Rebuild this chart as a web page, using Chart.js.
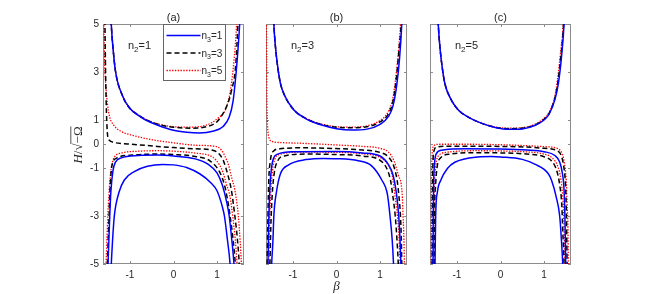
<!DOCTYPE html>
<html>
<head>
<meta charset="utf-8">
<script src="https://cdn.jsdelivr.net/npm/chart.js@4.4.1/dist/chart.umd.min.js"></script>
<style>
  html, body { margin: 0; padding: 0; background: #fff; }
  #wrap { position: relative; width: 661px; height: 294px; overflow: hidden; }
  .panel { position: absolute; top: 0; }
</style>
</head>
<body>
<div id="wrap">
  <canvas id="pa" class="panel" width="195" height="294" style="left:55px"></canvas>
  <canvas id="pb" class="panel" width="159" height="294" style="left:256px"></canvas>
  <canvas id="pc" class="panel" width="159" height="294" style="left:420px"></canvas>
</div>
<script>
// tick labels and panel labels
const xTicks = [-1, 0, 1];
const yTicks = [-5, -3, -1, 0, 1, 3, 5];
const panelTitles = ['(a)', '(b)', '(c)'];
const n2Values = [1, 3, 5];
const n3Values = [1, 3, 5];

// curves: [beta, H/sqrt(-Omega)]
// (a) n2 = 1
const aBlueUpper = [[-1.46,6.5],[-1.43,5],[-1.39,4],[-1.33,3],[-1.17,2],[-1.01,1.5],[-0.8,1.18],[-0.64,1.0],[-0.36,0.78],[0,0.57],[0.3,0.49],[0.6,0.46],[0.9,0.53],[1.14,0.73],[1.28,1.12],[1.37,1.8],[1.44,3],[1.48,3.9],[1.52,5],[1.55,6.5]];
const aBlackUpper = [[-1.46,6.5],[-1.43,5],[-1.39,4],[-1.33,3],[-1.17,2],[-1.01,1.5],[-0.8,1.2],[-0.64,1.02],[-0.36,0.82],[0,0.7],[0.4,0.66],[0.8,0.74],[1.0,0.93],[1.14,1.28],[1.25,1.7],[1.33,2.2],[1.43,3.3],[1.48,5],[1.51,6.5]];
const aRedUpper = [[-1.46,6.5],[-1.43,5],[-1.39,4],[-1.33,3],[-1.17,2],[-1.01,1.5],[-0.8,1.21],[-0.64,1.03],[-0.36,0.84],[0,0.72],[0.4,0.7],[0.8,0.82],[1.0,1.05],[1.22,1.55],[1.33,2.5],[1.41,3.9],[1.45,5],[1.48,6.5]];
const aRedMiddle = [[-1.61,6],[-1.6,5],[-1.58,3.3],[-1.55,2.3],[-1.52,1.7],[-1.47,1.15],[-1.38,0.8],[-1.2,0.52],[-0.98,0.38],[-0.5,0.18],[0,0.05],[0.5,-0.05],[0.99,-0.11],[1.1,-0.25],[1.18,-0.5],[1.27,-0.9],[1.33,-1.36],[1.41,-1.92],[1.46,-2.5],[1.49,-3],[1.53,-4],[1.56,-5],[1.58,-6]];
const aBlackMiddle = [[-1.585,6.5],[-1.575,5],[-1.565,3.5],[-1.55,2],[-1.535,1],[-1.51,0.3],[-1.47,0.15],[-1.43,0.1],[-1,0.0],[-0.37,-0.1],[0,-0.15],[0.5,-0.2],[0.92,-0.27],[1.05,-0.42],[1.14,-0.67],[1.26,-1.36],[1.33,-1.92],[1.41,-3],[1.47,-4],[1.51,-5],[1.54,-6.5]];
const aRedLower = [[-1.57,-6],[-1.55,-5],[-1.53,-4],[-1.51,-3],[-1.48,-2],[-1.45,-1.3],[-1.42,-0.9],[-1.36,-0.55],[-1.2,-0.38],[-0.8,-0.3],[-0.3,-0.28],[0,-0.3],[0.5,-0.38],[0.9,-0.55],[1.05,-0.85],[1.14,-1.2],[1.22,-1.7],[1.3,-2.2],[1.36,-3],[1.42,-4],[1.46,-5],[1.49,-6]];
const aBlackLower = [[-1.55,-6],[-1.52,-5],[-1.5,-4],[-1.48,-3],[-1.46,-2],[-1.43,-1.1],[-1.4,-0.8],[-1.3,-0.58],[-1.0,-0.47],[-0.4,-0.42],[0,-0.44],[0.5,-0.52],[0.85,-0.72],[1.07,-1.2],[1.17,-1.7],[1.24,-2.3],[1.3,-3],[1.37,-4],[1.42,-5],[1.45,-6]];
const aBlueOuter = [[-1.53,-6],[-1.505,-5],[-1.485,-4],[-1.465,-3],[-1.44,-2],[-1.39,-1.1],[-1.33,-0.75],[-1.2,-0.58],[-0.8,-0.48],[-0.36,-0.46],[0,-0.5],[0.5,-0.62],[0.8,-0.85],[1.0,-1.2],[1.12,-1.7],[1.22,-2.4],[1.28,-3],[1.34,-4],[1.39,-5],[1.42,-6]];
const aBlueInner = [[-1.46,-6],[-1.43,-5],[-1.4,-4],[-1.36,-3],[-1.25,-2],[-1.13,-1.5],[-0.9,-1.15],[-0.6,-0.93],[-0.25,-0.85],[0,-0.87],[0.3,-0.98],[0.61,-1.25],[0.85,-1.6],[1.0,-1.95],[1.12,-2.6],[1.17,-3],[1.24,-4],[1.3,-5],[1.33,-6]];

// (b) n2 = 3
const bBlueUpper = [[-1.47,6.5],[-1.44,5],[-1.4,4],[-1.35,3.2],[-1.29,2.54],[-1.2,2.05],[-0.98,1.42],[-0.7,1.05],[-0.36,0.8],[0,0.64],[0.34,0.58],[0.7,0.62],[1.0,0.82],[1.19,1.14],[1.3,1.6],[1.39,2.54],[1.45,3.6],[1.5,5],[1.53,6.5]];
const bBlackUpper = [[-1.47,6.5],[-1.44,5],[-1.4,4],[-1.35,3.2],[-1.29,2.54],[-1.2,2.05],[-0.98,1.42],[-0.7,1.06],[-0.36,0.82],[0,0.7],[0.34,0.68],[0.7,0.72],[1.0,0.92],[1.19,1.25],[1.3,1.8],[1.38,2.8],[1.44,4],[1.485,5],[1.51,6.5]];
const bRedUpper = [[-1.47,6.5],[-1.44,5],[-1.4,4],[-1.35,3.2],[-1.29,2.54],[-1.2,2.05],[-0.98,1.43],[-0.7,1.07],[-0.36,0.84],[0,0.72],[0.34,0.7],[0.7,0.76],[1.0,0.98],[1.19,1.35],[1.3,1.95],[1.37,2.9],[1.43,4],[1.47,5],[1.5,6.5]];
const bRedMiddle = [[-1.615,6],[-1.61,5],[-1.605,3.5],[-1.6,2],[-1.59,1],[-1.575,0.5],[-1.55,0.25],[-1.5,0.12],[-1.3,0.06],[-0.8,0.03],[0,-0.04],[0.6,-0.1],[1.0,-0.18],[1.2,-0.35],[1.32,-0.7],[1.42,-1.3],[1.51,-2.1],[1.53,-3],[1.55,-4],[1.56,-5],[1.57,-6]];
const bBlackOuter = [[-1.61,-6],[-1.595,-5],[-1.58,-3.5],[-1.56,-1.7],[-1.52,-0.7],[-1.45,-0.3],[-1.3,-0.2],[-0.8,-0.16],[0,-0.19],[0.6,-0.25],[1.0,-0.35],[1.2,-0.55],[1.32,-0.95],[1.4,-1.6],[1.43,-2.1],[1.47,-3],[1.49,-4],[1.5,-5],[1.52,-6]];
const bBlueOuter = [[-1.59,-6],[-1.575,-5],[-1.56,-3.5],[-1.53,-1.8],[-1.49,-0.95],[-1.45,-0.6],[-1.35,-0.42],[-1.0,-0.32],[0,-0.31],[0.6,-0.37],[1.0,-0.5],[1.19,-0.85],[1.3,-1.3],[1.38,-2.1],[1.43,-3],[1.46,-4],[1.48,-5],[1.5,-6]];
const bRedLower = [[-1.57,-6],[-1.555,-5],[-1.54,-3.5],[-1.51,-2],[-1.47,-1.1],[-1.42,-0.65],[-1.3,-0.43],[-0.8,-0.34],[0,-0.35],[0.6,-0.41],[1.0,-0.56],[1.18,-0.86],[1.28,-1.3],[1.34,-2.1],[1.4,-3],[1.44,-4],[1.46,-5],[1.48,-6]];
const bBlackInner = [[-1.55,-6],[-1.53,-5],[-1.51,-3.5],[-1.48,-2.2],[-1.43,-1.2],[-1.35,-0.7],[-1.2,-0.5],[-0.7,-0.42],[0,-0.44],[0.6,-0.5],[1.0,-0.68],[1.15,-1.0],[1.24,-1.5],[1.29,-2.1],[1.35,-3],[1.39,-4],[1.42,-5],[1.44,-6]];
const bBlueInner = [[-1.51,-6],[-1.49,-5],[-1.46,-4],[-1.44,-3],[-1.38,-2],[-1.29,-1.25],[-1.1,-0.87],[-0.7,-0.65],[-0.3,-0.6],[0,-0.61],[0.5,-0.7],[0.8,-0.9],[1.04,-1.5],[1.17,-2.1],[1.23,-3],[1.28,-4],[1.31,-5],[1.33,-6]];

// (c) n2 = 5
const cBlueUpper = [[-1.46,6.5],[-1.43,5],[-1.39,4],[-1.34,3.2],[-1.28,2.53],[-1.15,1.9],[-0.97,1.42],[-0.7,1.08],[-0.43,0.86],[-0.1,0.68],[0.19,0.61],[0.5,0.63],[0.8,0.78],[1.0,1.0],[1.12,1.25],[1.25,1.85],[1.33,2.53],[1.4,3.6],[1.46,5],[1.49,6.5]];
const cBlackUpper = [[-1.46,6.5],[-1.43,5],[-1.39,4],[-1.34,3.2],[-1.28,2.53],[-1.15,1.9],[-0.97,1.42],[-0.7,1.08],[-0.43,0.86],[-0.1,0.69],[0.19,0.64],[0.5,0.66],[0.8,0.8],[1.0,1.03],[1.12,1.29],[1.25,1.92],[1.32,2.6],[1.39,3.7],[1.45,5],[1.48,6.5]];
const cRedUpper = [[-1.46,6.5],[-1.43,5],[-1.39,4],[-1.34,3.2],[-1.28,2.53],[-1.15,1.9],[-0.97,1.42],[-0.7,1.08],[-0.43,0.87],[-0.1,0.7],[0.19,0.66],[0.5,0.68],[0.8,0.83],[1.0,1.07],[1.12,1.33],[1.25,2.0],[1.31,2.7],[1.38,3.8],[1.44,5],[1.47,6.5]];
const cRedOuter = [[-1.6,-6],[-1.59,-5],[-1.588,-3],[-1.585,-1.5],[-1.575,-0.6],[-1.56,-0.2],[-1.52,-0.05],[-1.4,-0.01],[-0.8,-0.01],[0,-0.03],[0.6,-0.07],[1.0,-0.11],[1.32,-0.2],[1.42,-0.42],[1.47,-0.8],[1.51,-1.5],[1.53,-2.5],[1.55,-3.5],[1.56,-5],[1.57,-6]];
const cBlackOuter = [[-1.58,-6],[-1.57,-5],[-1.565,-3],[-1.56,-1.6],[-1.55,-0.7],[-1.53,-0.3],[-1.48,-0.14],[-1.2,-0.09],[0,-0.1],[0.6,-0.13],[1.0,-0.18],[1.3,-0.28],[1.4,-0.5],[1.45,-0.9],[1.49,-1.6],[1.51,-2.6],[1.52,-3.6],[1.53,-5],[1.54,-6]];
const cBlueOuter = [[-1.56,-6],[-1.55,-5],[-1.545,-3],[-1.535,-1.6],[-1.515,-0.8],[-1.48,-0.42],[-1.35,-0.26],[-0.8,-0.2],[0,-0.21],[0.6,-0.25],[1.0,-0.32],[1.25,-0.48],[1.36,-0.75],[1.42,-1.2],[1.46,-1.9],[1.48,-3],[1.49,-4],[1.5,-5],[1.51,-6]];
const cRedInner = [[-1.545,-6],[-1.535,-5],[-1.53,-3],[-1.515,-1.7],[-1.49,-0.95],[-1.43,-0.5],[-1.25,-0.35],[-0.6,-0.28],[0,-0.29],[0.6,-0.33],[1.0,-0.42],[1.2,-0.6],[1.32,-0.95],[1.39,-1.5],[1.44,-2.5],[1.46,-3.5],[1.48,-5],[1.49,-6]];
const cBlackInner = [[-1.53,-6],[-1.52,-5],[-1.515,-3],[-1.495,-1.8],[-1.46,-1.0],[-1.38,-0.58],[-1.15,-0.42],[-0.6,-0.36],[0,-0.37],[0.6,-0.42],[1.0,-0.53],[1.18,-0.72],[1.29,-1.1],[1.36,-1.7],[1.41,-2.6],[1.43,-3.6],[1.46,-5],[1.47,-6]];
const cBlueInner = [[-1.515,-6],[-1.505,-5],[-1.49,-3],[-1.45,-2],[-1.37,-1.5],[-1.22,-1.02],[-1.05,-0.76],[-0.52,-0.54],[-0.2,-0.52],[0,-0.54],[0.5,-0.64],[0.8,-0.85],[1.09,-1.22],[1.17,-1.5],[1.28,-2.2],[1.36,-3],[1.4,-4],[1.43,-5],[1.45,-6]];

const FONT = '"Liberation Sans", Arial, Helvetica, sans-serif';
const SERIF = '"Liberation Serif", "Times New Roman", serif';
const TEXT = '#262626';
const AXIS = '#8c8c8c';

const STYLE = {
  blue:  { borderColor: '#0000ff', borderWidth: 1.5, borderDash: [] },
  black: { borderColor: '#000000', borderWidth: 1.5, borderDash: [5, 3] },
  red:   { borderColor: '#ff0000', borderWidth: 1.3, borderDash: [1.4, 1.4] }
};

function series(points, color) {
  return Object.assign({
    data: points.map(p => ({ x: p[0], y: p[1] })),
    pointRadius: 0,
    fill: false,
    cubicInterpolationMode: 'monotone'
  }, STYLE[color]);
}

// subscripted text like n_2=1
function subText(ctx, x, y, base, sub, rest, size) {
  ctx.font = size + 'px ' + FONT;
  ctx.fillText(base, x, y);
  x += ctx.measureText(base).width;
  ctx.font = Math.round(size * 0.7) + 'px ' + FONT;
  ctx.fillText(sub, x, y + size * 0.28);
  x += ctx.measureText(sub).width;
  ctx.font = size + 'px ' + FONT;
  ctx.fillText(rest, x, y);
}

// box with inward ticks on all four sides
const framePlugin = {
  id: 'frame',
  beforeDatasetsDraw(chart) {
    const { ctx, chartArea: a, scales: { x, y } } = chart;
    const t = 3;
    ctx.save();
    ctx.strokeStyle = AXIS;
    ctx.lineWidth = 1;
    ctx.strokeRect(Math.round(a.left) + 0.5, Math.round(a.top) + 0.5,
      Math.round(a.right - a.left) - 1, Math.round(a.bottom - a.top) - 1);
    ctx.beginPath();
    xTicks.forEach(v => {
      const px = Math.round(x.getPixelForValue(v)) + 0.5;
      ctx.moveTo(px, a.bottom); ctx.lineTo(px, a.bottom - t);
      ctx.moveTo(px, a.top); ctx.lineTo(px, a.top + t);
    });
    yTicks.forEach(v => {
      const py = Math.round(y.getPixelForValue(v)) + 0.5;
      ctx.moveTo(a.left, py); ctx.lineTo(a.left + t, py);
      ctx.moveTo(a.right, py); ctx.lineTo(a.right - t, py);
    });
    ctx.stroke();
    ctx.restore();
  }
};

const textPlugin = {
  id: 'panelText',
  afterDraw(chart, args, opts) {
    const { ctx, chartArea: a } = chart;
    ctx.save();
    ctx.fillStyle = TEXT;
    ctx.textBaseline = 'alphabetic';
    ctx.textAlign = 'center';
    ctx.font = '11px ' + FONT;
    ctx.fillText(opts.title, (a.left + a.right) / 2, a.top - 3);
    ctx.textAlign = 'left';
    subText(ctx, a.left + 25, a.top + 25, 'n', '2', '=' + opts.n2, 11);

    if (opts.legend) {
      const bx = Math.round(a.left) + 60.5, by = Math.round(a.top) + 0.5;
      const bw = 62, bh = 56;
      ctx.fillStyle = '#fff';
      ctx.fillRect(bx, by, bw, bh);
      ctx.strokeStyle = '#666';
      ctx.lineWidth = 1;
      ctx.strokeRect(bx, by, bw, bh);
      chart.data.datasets.slice(0, 3).forEach((ds, i) => {
        const ly = by + 11 + i * 17.5;
        ctx.beginPath();
        ctx.strokeStyle = ds.borderColor;
        ctx.lineWidth = ds.borderWidth;
        ctx.setLineDash(ds.borderDash);
        ctx.moveTo(bx + 3, ly);
        ctx.lineTo(bx + 37, ly);
        ctx.stroke();
        ctx.setLineDash([]);
        ctx.fillStyle = TEXT;
        subText(ctx, bx + 38, ly + 3.5, 'n', '3', '=' + n3Values[i], 10);
      });
    }

    if (opts.yLabel) {
      // H / sqrt(-Omega), rotated
      const cx = a.left - 25, cy = (a.top + a.bottom) / 2 + 1;
      ctx.translate(cx, cy);
      ctx.rotate(-Math.PI / 2);
      ctx.fillStyle = TEXT;
      ctx.strokeStyle = TEXT;
      const fs = 13;
      const parts = [
        { t: 'H', f: 'italic ' + fs + 'px ' + SERIF },
        { t: '/', f: fs + 'px ' + SERIF },
        { t: '\u221A', f: fs + 'px ' + SERIF },
        { t: '\u2212\u03A9', f: fs + 'px ' + SERIF, bar: true }
      ];
      let total = 0;
      parts.forEach(p => { ctx.font = p.f; p.w = ctx.measureText(p.t).width; total += p.w; });
      let px = -total / 2;
      const base = 4;
      parts.forEach(p => {
        ctx.font = p.f;
        ctx.fillText(p.t, px, base);
        if (p.bar) {
          ctx.beginPath();
          ctx.lineWidth = 0.8;
          ctx.moveTo(px - 0.5, base - fs * 0.86);
          ctx.lineTo(px + p.w, base - fs * 0.86);
          ctx.stroke();
        }
        px += p.w;
      });
    }
    ctx.restore();
  }
};

function makePanel(id, idx, curves, leftW, rightW, withYLabels, withXTitle) {
  new Chart(document.getElementById(id), {
    type: 'line',
    data: { datasets: curves.map(c => series(c[0], c[1])) },
    options: {
      responsive: false,
      animation: false,
      events: [],
      layout: { padding: { top: 24, right: rightW, left: 0, bottom: 0 } },
      elements: { line: { capBezierPoints: false } },
      scales: {
        x: {
          type: 'linear', min: -1.62, max: 1.62,
          afterBuildTicks: s => { s.ticks = xTicks.map(v => ({ value: v })); },
          afterFit: s => { s.height = 30; },
          grid: { display: false, drawTicks: false },
          border: { display: false },
          ticks: { color: TEXT, font: { family: FONT, size: 10 }, padding: 5, maxRotation: 0 },
          title: {
            display: withXTitle, text: '\u03B2', color: TEXT,
            font: { family: SERIF, size: 13, style: 'italic' }, padding: { top: 0, bottom: 0 }
          }
        },
        y: {
          type: 'linear', min: -5, max: 5,
          afterBuildTicks: s => { s.ticks = yTicks.map(v => ({ value: v })); },
          afterFit: s => { s.width = leftW; },
          grid: { display: false, drawTicks: false },
          border: { display: false },
          ticks: { display: withYLabels, color: TEXT, font: { family: FONT, size: 10 }, padding: 4 }
        }
      },
      plugins: {
        legend: { display: false },
        tooltip: { enabled: false },
        panelText: { title: panelTitles[idx], n2: n2Values[idx], legend: idx === 0, yLabel: idx === 0 }
      }
    },
    plugins: [framePlugin, textPlugin]
  });
}

makePanel('pa', 0, [
  [aBlueUpper, 'blue'], [aBlackUpper, 'black'], [aRedUpper, 'red'],
  [aBlueOuter, 'blue'], [aBlackMiddle, 'black'], [aRedMiddle, 'red'],
  [aBlueInner, 'blue'], [aBlackLower, 'black'], [aRedLower, 'red']
], 48, 6, true, false);

makePanel('pb', 1, [
  [bBlueUpper, 'blue'], [bBlackUpper, 'black'], [bRedUpper, 'red'],
  [bBlueOuter, 'blue'], [bBlackOuter, 'black'], [bRedMiddle, 'red'],
  [bBlueInner, 'blue'], [bBlackInner, 'black'], [bRedLower, 'red']
], 10, 8, false, true);

makePanel('pc', 2, [
  [cBlueUpper, 'blue'], [cBlackUpper, 'black'], [cRedUpper, 'red'],
  [cBlueOuter, 'blue'], [cBlackOuter, 'black'], [cRedOuter, 'red'],
  [cBlueInner, 'blue'], [cBlackInner, 'black'], [cRedInner, 'red']
], 10, 8, false, false);
</script>
</body>
</html>
